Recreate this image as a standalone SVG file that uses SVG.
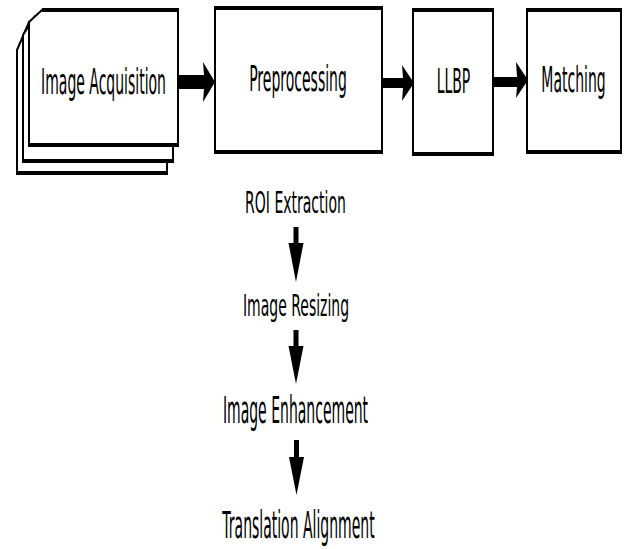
<svg xmlns="http://www.w3.org/2000/svg" width="627" height="549" viewBox="0 0 627 549">
  <style>
    .box { fill: #fff; stroke: #000; stroke-width: 2; }
    .edge { fill: none; stroke: #000; stroke-width: 4; }
    .lbl { font-family: "DejaVu Sans", "Liberation Sans", sans-serif; font-size: 14px; fill: #000; text-anchor: middle; }
    .arr { fill: #000; stroke: none; }
  </style>
  <rect width="627" height="549" fill="#fff"/>

  <!-- Image Acquisition: stacked sheets -->
  <g id="image-acquisition">
    <polygon class="box" points="17,50 29,22 167,22 167,173 17,173"/>
    <line class="edge" x1="16" y1="173" x2="168" y2="173"/>
    <polygon class="box" points="23,35 35,16 173,16 173,161 23,161"/>
    <line class="edge" x1="22" y1="161" x2="174" y2="161"/>
    <polygon class="box" points="29,22 42,10 178,10 178,145 29,145"/>
    <line class="edge" x1="42" y1="10" x2="179" y2="10"/>
    <line class="edge" x1="28" y1="145" x2="179" y2="145"/>
    <text class="lbl" transform="translate(103.5,94) scale(1,2.5)">Image Acquisition</text>
  </g>

  <g id="preprocessing">
    <rect class="box" x="215" y="8" width="167" height="144"/>
    <line class="edge" x1="214" y1="8" x2="383" y2="8"/>
    <line class="edge" x1="214" y1="152" x2="383" y2="152"/>
    <text class="lbl" transform="translate(298,91) scale(1,2.5)">Preprocessing</text>
  </g>

  <g id="llbp">
    <rect class="box" x="413" y="10" width="80" height="144"/>
    <line class="edge" x1="412" y1="10" x2="494" y2="10"/>
    <line class="edge" x1="412" y1="154" x2="494" y2="154"/>
    <text class="lbl" transform="translate(453.5,93) scale(1,2.4)">LLBP</text>
  </g>

  <g id="matching">
    <rect class="box" x="527" y="10" width="94" height="142"/>
    <line class="edge" x1="526" y1="10" x2="622" y2="10"/>
    <line class="edge" x1="526" y1="152" x2="622" y2="152"/>
    <text class="lbl" transform="translate(573.5,92) scale(1,2.5)">Matching</text>
  </g>

  <g id="roi-extraction">
    <text class="lbl" transform="translate(295.5,213) scale(1,2.1)">ROI Extraction</text>
  </g>
  <g id="image-resizing">
    <text class="lbl" transform="translate(296,316) scale(1,2.1)">Image Resizing</text>
  </g>
  <g id="image-enhancement">
    <text class="lbl" transform="translate(295.5,423) scale(1,2.6)">Image Enhancement</text>
  </g>
  <g id="translation-alignment">
    <text class="lbl" transform="translate(298.5,538) scale(1,2.6)">Translation Alignment</text>
  </g>

  <!-- connectors -->
  <g id="connectors">
    <polygon class="arr" points="178,75 204,75 203,62 215,82 203,102 204,89 178,89"/>
    <polygon class="arr" points="382,78 403,78 402,65 414,83 402,101 403,88 382,88"/>
    <polygon class="arr" points="493,77 517,77 516,62 528,80 516,98 517,87 493,87"/>
    <polygon class="arr" points="293.5,227 298.5,227 298.5,243 303.5,243 296,282 288.5,243 293.5,243"/>
    <polygon class="arr" points="293.5,330 298.5,330 298.5,346 303.5,346 296,384 288.5,346 293.5,346"/>
    <polygon class="arr" points="294,440 299,440 299,457 304,457 296.5,495 289,457 294,457"/>
  </g>
</svg>
